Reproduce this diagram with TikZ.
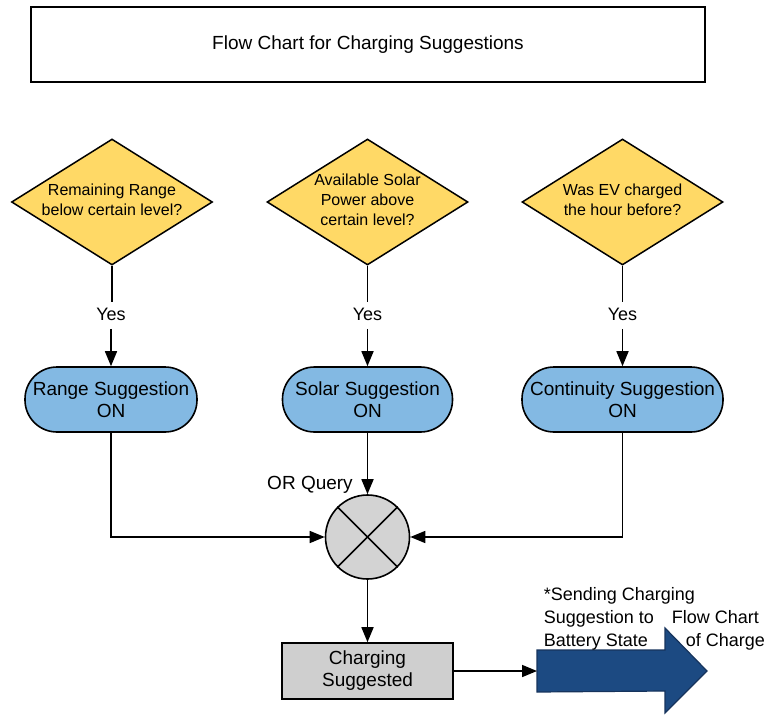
\documentclass[tikz,border=0pt]{standalone}
\usepackage{fontspec}
\setmainfont{Liberation Sans}
\usetikzlibrary{shapes.geometric,arrows.meta}
\definecolor{decisionfill}{HTML}{FFD966}
\definecolor{stateblue}{HTML}{83B9E3}
\definecolor{gatefill}{HTML}{D3D3D3}
\definecolor{boxfill}{HTML}{CFCFCF}
\definecolor{sendblue}{HTML}{1C4A82}
\definecolor{sendedge}{HTML}{16335C}
\begin{document}
\begin{tikzpicture}[x=1pt,y=-1pt,
  line width=1.6pt,
  flow/.style={-{Triangle[length=15pt,width=12pt]}},
  question/.style={shape=diamond,draw,fill=decisionfill,line width=1.5pt,
    minimum width=201pt,minimum height=126pt,inner sep=0pt},
  qtext/.style={align=center,font=\fontsize{16}{20}\selectfont},
  statebox/.style={rectangle,draw,fill=stateblue,rounded corners=32pt,
    minimum height=65pt,inner sep=0pt,align=center,
    font=\fontsize{19}{23}\selectfont},
  yeslabel/.style={font=\fontsize{18}{22}\selectfont,text height=13pt,
    text depth=4pt,inner xsep=2pt,inner ysep=4pt},
  sidetext/.style={anchor=base west,inner sep=0pt,font=\fontsize{18}{23}\selectfont}]
\useasboundingbox (0,0) rectangle (770,714);

% title
\node[rectangle,draw,minimum width=674pt,minimum height=75pt,
  font=\fontsize{19}{23}\selectfont] (title) at (368,44.5)
  {Flow Chart for Charging Suggestions};

% decisions
\node[question] (qrange) at (112,202) {};
\node[qtext] (qrangetxt) at (112,200) {Remaining Range\\below certain level?};
\node[question] (qsolar) at (367.5,202) {};
\node[qtext] (qsolartxt) at (367.5,200) {Available Solar\\Power above\\certain level?};
\node[question] (qcont) at (622.5,202) {};
\node[qtext] (qconttxt) at (622.5,200) {Was EV charged\\the hour before?};

% yes labels
\node[yeslabel] (yrange) at (111,315.5) {Yes};
\node[yeslabel] (ysolar) at (367.5,315.5) {Yes};
\node[yeslabel] (ycont) at (622.5,315.5) {Yes};

% suggestion states
\node[statebox,minimum width=172pt] (srange) at (111,399.5) {Range Suggestion\\[-1pt]ON};
\node[statebox,minimum width=170pt] (ssolar) at (367.5,399.5) {Solar Suggestion\\[-1pt]ON};
\node[statebox,minimum width=201pt] (scont) at (622.5,399.5) {Continuity Suggestion\\[-1pt]ON};

% OR gate
\node[circle,draw,fill=gatefill,minimum size=84pt,inner sep=0pt] (orgate) at (367.5,537) {};
\draw (orgate.north west) -- (orgate.south east);
\draw (orgate.north east) -- (orgate.south west);
\node[anchor=base,inner sep=0pt,font=\fontsize{19}{23}\selectfont] (orlabel) at (310,489) {OR Query};

% result
\node[rectangle,draw,fill=boxfill,minimum width=171pt,minimum height=56pt,
  inner sep=0pt,align=center,font=\fontsize{19}{22}\selectfont] (result) at (367.5,671)
  {Charging\\Suggested};

% outgoing block arrow
\coordinate (sendtail) at (537,671);
\filldraw[draw=sendedge,fill=sendblue,line width=1.2pt,line join=miter]
  (sendtail) ++(0,-21) -- ++(128,0) -- ++(0,-22) -- (707,671)
  -- (665,713) -- ++(0,-22) -- (537,692) -- cycle;

\node[sidetext] (s1) at (543,600.5) {*Sending Charging};
\node[sidetext] (s2) at (543,623.5) {Suggestion to};
\node[sidetext] (s3) at (543,646.5) {Battery State};
\node[sidetext] (s4) at (671,623.5) {Flow Chart};
\node[sidetext] (s5) at (685,646.5) {of Charge};

% connectors
\draw (qrange.south) -- (qrange.south |- yrange.north);
\draw (qsolar.south) -- (ysolar.north);
\draw (qcont.south) -- (ycont.north);
\draw[flow] (yrange.south) -- (srange.north);
\draw[flow] (ysolar.south) -- (ssolar.north);
\draw[flow] (ycont.south) -- (scont.north);
\draw[flow] (srange.south) |- (orgate.west);
\draw[flow] (ssolar.south) -- (orgate.north);
\draw[flow] (scont.south) |- (orgate.east);
\draw[flow] (orgate.south) -- (result.north);
\draw[flow] (result.east) -- (sendtail);
\end{tikzpicture}
\end{document}
